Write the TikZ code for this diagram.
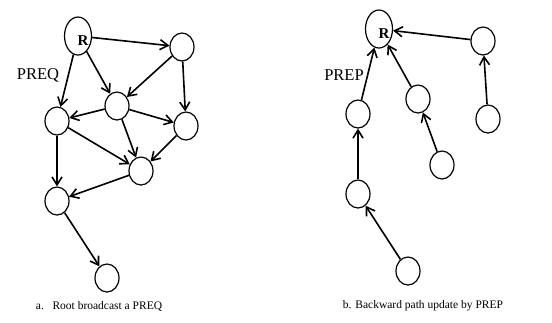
\documentclass[tikz,border=0pt]{standalone}
\usepackage{fontspec}
\setmainfont{Liberation Serif}
\usetikzlibrary{arrows.meta,shapes.geometric}

\tikzset{
  mnode/.style={draw, ellipse, line width=1.2pt, minimum width=24pt, minimum height=28pt, inner sep=0pt},
  rootnode/.style={mnode, minimum width=27pt, minimum height=38pt},
  msg/.style={-{Straight Barb[length=8pt,width=10pt]}, line width=1.6pt},
  rlabel/.style={font=\fontsize{15}{17}\selectfont\bfseries},
  pktlabel/.style={font=\fontsize{16.5}{18}\selectfont},
  caption/.style={font=\fontsize{11.5}{13}\selectfont},
}

\begin{document}
\begin{tikzpicture}[x=1pt, y=-1pt]
            \useasboundingbox (0,0) rectangle (552,322);

            % a. PREQ broadcast from the root
            \node[rootnode] (ra) at (78,36) {};
            \node[rlabel] at (83,41) {R};
            \node[mnode] (a1) at (182,47) {};
            \node[mnode] (a2) at (117,106) {};
            \node[mnode] (a3) at (57,121) {};
            \node[mnode] (a4) at (186,126) {};
            \node[mnode] (a5) at (141,171) {};
            \node[mnode] (a6) at (57,201) {};
            \node[mnode] (a7) at (107,278) {};
            \node[pktlabel] (preq) at (38,75) {PREQ};

            \draw[msg] (ra) -- (a1);
            \draw[msg] (ra) -- (a3);
            \draw[msg] (ra) -- (a2);
            \draw[msg] (a1) -- (a2);
            \draw[msg] (a1) -- (a4);
            \draw[msg] (a2) -- (a3);
            \draw[msg] (a2) -- (a4);
            \draw[msg] (a2) -- (a5);
            \draw[msg] (a3) -- (a5);
            \draw[msg] (a4) -- (a5);
            \draw[msg] (a3) -- (a6);
            \draw[msg] (a5) -- (a6);
            \draw[msg] (a6) -- (a7);

            \node[caption] (capa) at (99,306) {a.\enspace\ Root broadcast a PREQ};

            % b. PREP sent back towards the root
            \node[rootnode] (rb) at (379,29) {};
            \node[rlabel] at (384,34) {R};
            \node[mnode] (b1) at (483,41) {};
            \node[mnode] (b2) at (418,99) {};
            \node[mnode] (b3) at (488,119) {};
            \node[mnode] (b4) at (442,165) {};
            \node[mnode] (b5) at (358,114) {};
            \node[mnode] (b6) at (358,194) {};
            \node[mnode] (b7) at (408,271) {};

            \draw[msg] (b1) -- (rb);
            \draw[msg] (b5) -- (rb);
            \draw[msg] (b2) -- (rb);
            \draw[msg] (b3) -- (b1);
            \draw[msg] (b4) -- (b2);
            \draw[msg] (b6) -- (b5);
            \draw[msg] (b7) -- (b6);
            \node[pktlabel, fill=white, inner sep=1pt] (prep) at (344,75) {PREP};

            \node[caption] (capb) at (423,306) {b. Backward path update by PREP};
        \end{tikzpicture}
\end{document}
